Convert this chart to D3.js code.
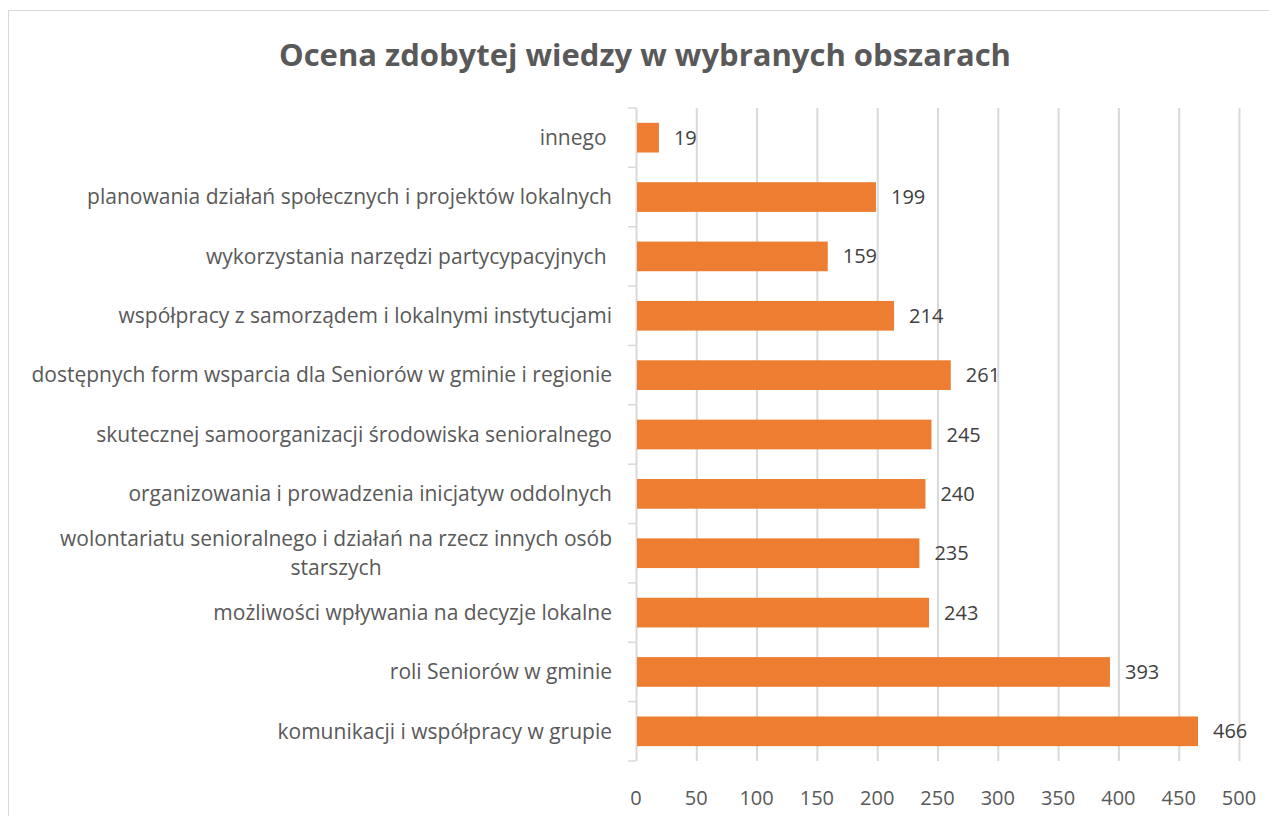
<!DOCTYPE html>
<html>
<head>
<meta charset="utf-8">
<script src="https://cdn.jsdelivr.net/npm/d3@7"></script>
<style>
  body { margin: 0; background: white; }
  text { font-family: "Open Sans", sans-serif; white-space: pre; }
</style>
</head>
<body>
<div id="container"></div>
<script>
let w = 1269;
let h = 816;

// categories top to bottom, wrapped lines kept as arrays
let categories = [
  ["innego "],
  ["planowania działań społecznych i projektów lokalnych"],
  ["wykorzystania narzędzi partycypacyjnych "],
  ["współpracy z samorządem i lokalnymi instytucjami"],
  ["dostępnych form wsparcia dla Seniorów w gminie i regionie"],
  ["skutecznej samoorganizacji środowiska senioralnego"],
  ["organizowania i prowadzenia inicjatyw oddolnych"],
  ["wolontariatu senioralnego i działań na rzecz innych osób", "starszych"],
  ["możliwości wpływania na decyzje lokalne"],
  ["roli Seniorów w gminie"],
  ["komunikacji i współpracy w grupie"]
];
let values = [19, 199, 159, 214, 261, 245, 240, 235, 243, 393, 466];
let xTicks = [0, 50, 100, 150, 200, 250, 300, 350, 400, 450, 500];
let title = "Ocena zdobytej wiedzy w wybranych obszarach";

let plotLeft = 636, plotRight = 1239, plotTop = 108, plotBottom = 761;
let textColor = "#595959";
let gridColor = "#d9d9d9";

let viz = d3.select("#container")
  .append("svg")
    .attr("width", w)
    .attr("height", h)
;

// chart border
viz.append("rect")
  .attr("x", 8.5)
  .attr("y", 10.5)
  .attr("width", 1270)
  .attr("height", 820)
  .attr("fill", "white")
  .attr("stroke", gridColor)
  .attr("stroke-width", 1)
;

viz.append("text")
  .text(title)
  .attr("x", 645)
  .attr("y", 66)
  .attr("text-anchor", "middle")
  .style("font-size", "31px")
  .style("font-weight", "bold")
  .style("fill", textColor)
;

let x = d3.scaleLinear().domain([0, 500]).range([plotLeft, plotRight]);
let y = d3.scaleBand().domain(d3.range(categories.length)).range([plotTop, plotBottom]).paddingInner(0.5).paddingOuter(0.25);

// vertical gridlines
viz.selectAll(".grid").data(xTicks).enter()
  .append("line")
    .attr("class", "grid")
    .attr("x1", d => x(d) + 0.5)
    .attr("x2", d => x(d) + 0.5)
    .attr("y1", plotTop)
    .attr("y2", plotBottom)
    .style("stroke", gridColor)
    .style("stroke-width", 2)
;

// x tick labels
viz.selectAll(".xlab").data(xTicks).enter()
  .append("text")
    .attr("class", "xlab")
    .text(d => d)
    .attr("x", d => x(d))
    .attr("y", 805)
    .attr("text-anchor", "middle")
    .style("font-size", "20px")
    .style("fill", textColor)
;

// category axis ticks at band boundaries
let step = (plotBottom - plotTop) / categories.length;
viz.selectAll(".ytick").data(d3.range(categories.length + 1)).enter()
  .append("line")
    .attr("class", "ytick")
    .attr("x1", plotLeft - 8)
    .attr("x2", plotLeft)
    .attr("y1", d => plotTop + d * step)
    .attr("y2", d => plotTop + d * step)
    .style("stroke", gridColor)
    .style("stroke-width", 1.5)
;

let bars = viz.selectAll(".bar").data(values).enter()
  .append("rect")
    .attr("class", "bar")
    .attr("x", x(0) + 1)
    .attr("y", (d, i) => y(i))
    .attr("width", d => x(d) - x(0) - 1)
    .attr("height", y.bandwidth())
    .style("fill", "#ED7D31")
;

viz.selectAll(".val").data(values).enter()
  .append("text")
    .attr("class", "val")
    .text(d => d)
    .attr("x", d => x(d) + 15)
    .attr("y", (d, i) => y(i) + y.bandwidth() / 2)
    .attr("dy", "0.35em")
    .style("font-size", "20px")
    .style("fill", "#404040")
;

let catGroups = viz.selectAll(".cat").data(categories).enter()
  .append("text")
    .attr("class", "cat")
    .attr("text-anchor", "middle")
    .style("font-size", "21px")
    .style("fill", textColor)
;

catGroups.each(function(lines, i) {
  let t = d3.select(this);
  let cy = y(i) + y.bandwidth() / 2;
  let lh = 29;
  lines.forEach((ln, j) => {
    t.append("tspan")
      .text(ln)
      .attr("y", cy + (j - (lines.length - 1) / 2) * lh)
      .attr("dy", "0.35em");
  });
});

// right-align block, center lines inside it
catGroups.each(function() {
  let t = d3.select(this);
  let maxW = 0;
  t.selectAll("tspan").each(function() {
    maxW = Math.max(maxW, this.getComputedTextLength());
  });
  t.selectAll("tspan").attr("x", 612 - maxW / 2);
});
</script>
</body>
</html>
